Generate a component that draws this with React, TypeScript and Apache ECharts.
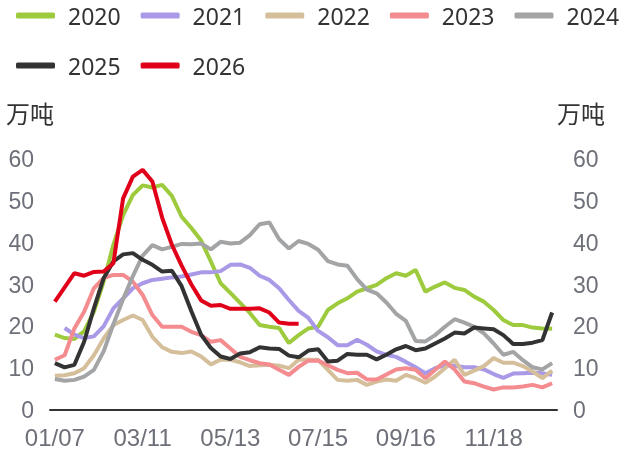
import React, { useEffect, useRef } from "react";
import * as echarts from "echarts";

const categories = [
  "01/07", "01/14", "01/21", "01/28", "02/04", "02/11", "02/18", "02/25",
  "03/04", "03/11", "03/18", "03/25", "04/01", "04/08", "04/15", "04/22", "04/29",
  "05/06", "05/13", "05/20", "05/27", "06/03", "06/10", "06/17", "06/24",
  "07/01", "07/08", "07/15", "07/22", "07/29", "08/05", "08/12", "08/19", "08/26",
  "09/02", "09/09", "09/16", "09/23", "09/30", "10/07", "10/14", "10/21", "10/28",
  "11/04", "11/11", "11/18", "11/25", "12/02", "12/09", "12/16", "12/23", "12/30",
];

const years = ["2020", "2021", "2022", "2023", "2024", "2025", "2026"];

const y2020 = [18, 17.2, 17, 18.8, 23.5, 30.7, 39.5, 46.6, 51.4, 53.7, 53.2, 53.8, 51.2, 46.2, 43.5, 40.5, 35.5, 30.3, 28, 25.6, 23.2, 20.3, 19.9, 19.6, 16, 17.9, 19.5, 19.9, 23.9, 25.5, 26.7, 28.3, 29.1, 29.9, 31.5, 32.7, 32.1, 33.5, 28.3, 29.5, 30.5, 29.2, 28.7, 27.1, 25.9, 23.9, 21.5, 20.3, 20.3, 19.7, 19.5, 19.4];
const y2021 = [null, 19.6, 18, 17.2, 17.6, 20, 24.3, 26.7, 29.1, 30.3, 31.1, 31.4, 31.7, 31.9, 32.4, 32.9, 32.9, 33.2, 34.7, 34.8, 34, 32.1, 31.1, 29.1, 26.3, 23.7, 22, 18.9, 17.4, 15.5, 15.5, 16.8, 15.6, 14, 13.2, 12.7, 11.5, 10.2, 8.8, 10, 10.7, 10.6, 10.2, 10.2, 9.7, 8.6, 7.7, 8.7, 8.8, 8.9, 8.8, 8.4];
const y2022 = [8.2, 8.3, 8.8, 10, 13.1, 17.1, 20.3, 21.5, 22.6, 21.5, 17.5, 15, 13.9, 13.6, 14, 12.8, 10.9, 12, 12, 11.4, 10.5, 10.7, 10.8, 10.6, 10, 12, 12, 12, 9.6, 7.2, 7, 7.2, 6, 6.8, 7.3, 7, 8.4, 7.6, 6.5, 8, 10, 12, 8.4, 9.4, 10.5, 12.4, 11.3, 11.3, 10.5, 9.2, 7.6, 9.4];
const y2023 = [12, 13.1, 19.5, 23.5, 29.1, 31.5, 32.3, 32.3, 30.7, 27.5, 22.7, 19.9, 19.9, 19.9, 18.7, 17.9, 16.3, 16.7, 14.7, 12.7, 11.9, 11.2, 10.9, 9.6, 8.4, 10.3, 11.8, 11.8, 10.7, 9.6, 8.8, 8.9, 7.3, 7.3, 8.5, 9.7, 10, 9.6, 7.6, 9.6, 11.6, 9.7, 6.8, 6.4, 5.6, 4.9, 5.4, 5.4, 5.6, 6, 5.4, 6.4];
const y2024 = [7.4, 7, 7.2, 8, 9.6, 14, 20.5, 26.5, 32, 36.9, 39.4, 38.4, 39, 39.7, 39.6, 39.8, 38.4, 40.2, 39.8, 40, 41.8, 44.4, 44.8, 40.8, 38.6, 40.4, 39.7, 38.3, 35.6, 34.8, 34.5, 31.3, 28.8, 27.9, 25.7, 23, 21.3, 16.5, 16.4, 17.9, 19.9, 21.7, 20.9, 19.9, 18.3, 15.9, 13.2, 13.9, 11.9, 10.2, 9.7, 11.2];
const y2025 = [11.2, 10.2, 10.8, 16.3, 24.3, 31.5, 35.5, 37.2, 37.5, 35.9, 34.7, 33.1, 33.3, 29.6, 23.6, 18, 14.8, 12.8, 12.2, 13.5, 13.8, 15, 14.7, 14.6, 13, 12.6, 14.2, 14.5, 11.6, 11.8, 13.4, 13.2, 13.2, 12.1, 13.2, 14.5, 15.3, 14.3, 14.7, 15.9, 17.1, 18.5, 18.3, 19.7, 19.5, 19.3, 17.9, 15.8, 15.8, 16.1, 16.7, 23.3];
const y2026 = [25.9, 29.3, 32.7, 32.1, 33, 33.1, 35.1, 50.6, 55.8, 57.4, 54.6, 46, 39.5, 34.5, 30, 26.2, 24.9, 25.1, 24.2, 24.2, 24.2, 24.3, 23.3, 20.9, 20.6, 20.6];

const seriesData = [y2020, y2021, y2022, y2023, y2024, y2025, y2026];
const colors = ["#9dcb3d", "#a999e6", "#d5bf9b", "#f38b8f", "#a3a4a6", "#333333", "#e1001a"];

const FONT = "'Noto Sans', 'Noto Sans CJK SC', sans-serif";
const TICKFONT = "'Liberation Sans', Arial, sans-serif";
const LABEL = "#6E7079";

export default function App() {
  const ref = useRef<HTMLDivElement>(null);
  useEffect(() => {
    if (!ref.current) return;
    const chart = echarts.init(ref.current, undefined, { renderer: "svg" });
    const legendBase = {
      left: 16,
      width: 614,
      padding: 0,
      icon: "roundRect",
      itemWidth: 39,
      itemHeight: 6,
      itemGap: 20,
      textStyle: { fontSize: 23, color: "#333", fontFamily: FONT, padding: [0, 0, 0, 8] },
    };
    const yBase = {
      type: "value",
      min: 0,
      max: 60,
      interval: 10,
      name: "万吨",
      nameLocation: "end",
      nameGap: 34,
      axisLine: { show: false },
      axisTick: { show: false },
      splitLine: { show: false },
      axisLabel: { fontSize: 23, color: LABEL, margin: 16, fontFamily: TICKFONT },
    };
    chart.setOption({
      animation: false,
      color: colors,
      textStyle: { fontFamily: FONT },
      legend: [
        { ...legendBase, top: 4, data: years.slice(0, 5) },
        { ...legendBase, top: 54, data: years.slice(5) },
      ],
      grid: { left: 50, right: 73, top: 159, bottom: 42 },
      xAxis: {
        type: "category",
        data: categories,
        boundaryGap: true,
        axisLine: { lineStyle: { color: "#333", width: 2 } },
        axisTick: { inside: true, length: 9, interval: 8, lineStyle: { color: "#333", width: 2 } },
        axisLabel: { interval: 8, fontSize: 24, color: LABEL, margin: 15, fontFamily: TICKFONT },
      },
      yAxis: [
        { ...yBase, position: "left", nameTextStyle: { fontSize: 24, color: "#333", align: "right", fontFamily: FONT, padding: [0, -4, 0, 0] } },
        { ...yBase, position: "right", nameTextStyle: { fontSize: 24, color: "#333", align: "left", fontFamily: FONT } },
      ],
      series: years.map((y, i) => ({
        name: y,
        type: "line",
        data: seriesData[i],
        symbol: "none",
        showSymbol: false,
        connectNulls: false,
        lineStyle: { width: 4, color: colors[i] },
        itemStyle: { color: colors[i] },
        z: 2 + i,
      })),
    });
    return () => chart.dispose();
  }, []);
  return <div ref={ref} style={{ position: "fixed", left: 0, top: 0, width: 630, height: 452 }} />;
}
